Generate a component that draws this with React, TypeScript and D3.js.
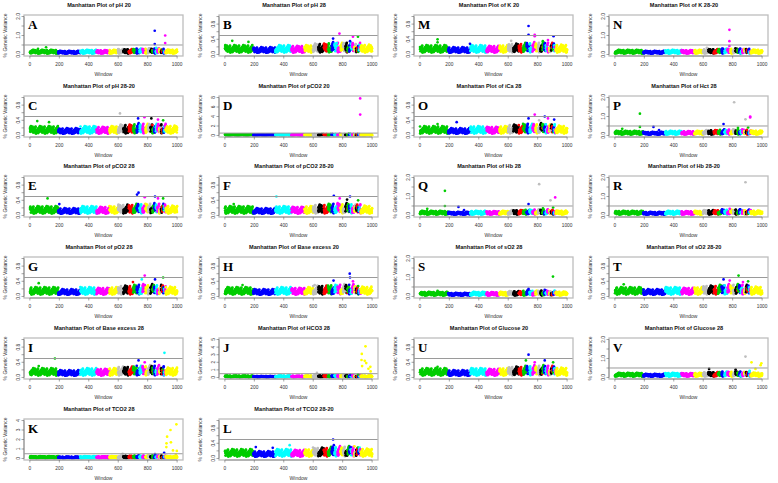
import React from "react";
import * as d3 from "d3";

// ---------- data ----------
const chromosomeNames = ["1","2","3","4","5","6","7","8","9","10","11","12","13","14","15","16","17","18","19","20","21","22","23","24","25","26","27","28","Z"];
const chromosomeWindows = [192,150,110,88,58,36,37,29,24,20,20,20,18,16,13,1,11,11,10,14,7,5,6,7,3,6,5,5,78];
// R default palette order (black, red, green3, blue, cyan, magenta, yellow, gray)
const rPalette = ["#000000","#FF0000","#00CD00","#0000FF","#00FFFF","#FF00FF","#FFFF00","#BEBEBE"];
// typical top of the background band of each chromosome (% genetic variance)
const bandTop = [0.26,0.2,0.26,0.24,0.26,0.3,0.3,0.3,0.32,0.34,0.32,0.34,0.32,0.34,0.34,0.3,0.34,0.34,0.32,0.34,0.3,0.3,0.32,0.32,0.3,0.32,0.32,0.32,0.27];
const bandLow = 0.03;
// relative position of window values inside the band
const bandPattern = [0.42,0.65,0.3,0.55,0.8,0.25,0.5,0.38,0.7,0.15,0.6,0.45,0.9,0.33,0.52,0.2,0.68,0.4,0.58,0.1,0.75,0.35,0.48,0.62,0.28,0.85,0.44,0.56,0.18,0.72,0.39,0.5,0.95,0.3,0.6,0.22,0.47,0.66,0.36,0.54,0.12,0.78,0.41,0.59,0.26,0.69,0.46,0.34,0.88,0.51,0.24,0.63,0.43,0.57,0.16,0.74,0.37,0.53,0.29,0.82,0.49];

const panelLetters = ["A","B","M","N","C","D","O","P","E","F","Q","R","G","H","S","T","I","J","U","V","K","L"];
const panelTitles = [
  "Manhattan Plot of pH 20","Manhattan Plot of pH 28","Manhattan Plot of K 20","Manhattan Plot of K 28-20",
  "Manhattan Plot of pH 28-20","Manhattan Plot of pCO2 20","Manhattan Plot of iCa 28","Manhattan Plot of Hct 28",
  "Manhattan Plot of pCO2 28","Manhattan Plot of pCO2 28-20","Manhattan Plot of Hb 28","Manhattan Plot of Hb 28-20",
  "Manhattan Plot of pO2 28","Manhattan Plot of Base excess 20","Manhattan Plot of sO2 28","Manhattan Plot of sO2 28-20",
  "Manhattan Plot of Base excess 28","Manhattan Plot of HCO3 28","Manhattan Plot of Glucose 20","Manhattan Plot of Glucose 28",
  "Manhattan Plot of TCO2 28","Manhattan Plot of TCO2 28-20",
];
const panelYMax = [2,1,1,2,1,8,1,2,1,1,2,2,1,1,2,1,1,5,1,2,4,1];
const threshold = 0.5;
// notable windows per panel: [window, % genetic variance]
const panelPeaks: number[][][] = [
  [[848,1.25],[848,0.55],[919,1.0],[919,0.6],[55,0.3],[110,0.38],[600,0.28],[858,0.35],[808,0.32],[880,0.3]],
  [[778,0.55],[870,0.47],[904,0.47],[735,0.42],[690,0.25],[50,0.36],[160,0.33],[760,0.3],[850,0.35]],
  [[738,0.75],[738,0.52],[780,0.52],[780,0.48],[908,0.48],[120,0.4],[120,0.32],[620,0.36],[340,0.28],[835,0.35],[870,0.38]],
  [[778,1.3],[778,0.7],[778,0.45],[625,0.35],[735,0.3]],
  [[612,0.58],[735,0.45],[778,0.48],[825,0.45],[870,0.42],[50,0.38],[130,0.35],[905,0.4]],
  [[919,7.8],[919,4.4]],
  [[250,0.35],[738,0.45],[780,0.55],[810,0.4],[848,0.5],[870,0.45],[912,0.42],[120,0.3]],
  [[810,1.75],[170,1.15],[170,0.45],[262,0.45],[300,0.28],[50,0.35],[738,0.6],[887,0.85],[919,1.0],[919,0.95],[836,0.4],[905,0.42]],
  [[120,0.45],[200,0.3],[738,0.6],[728,0.55],[780,0.48],[850,0.5],[870,0.45],[905,0.45]],
  [[350,0.5],[740,0.52],[780,0.45],[830,0.42],[850,0.5],[905,0.4],[60,0.3]],
  [[810,1.65],[170,1.3],[170,0.5],[262,0.45],[300,0.28],[50,0.35],[738,0.6],[887,0.8],[919,0.95],[905,0.42],[836,0.38]],
  [[887,1.75],[780,0.35],[850,0.32]],
  [[780,0.55],[760,0.45],[850,0.45],[905,0.5],[60,0.35],[700,0.38]],
  [[848,0.6],[850,0.5],[738,0.42],[870,0.4],[120,0.3],[610,0.3]],
  [[904,1.05],[738,0.4],[848,0.35],[120,0.3]],
  [[840,0.55],[738,0.45],[780,0.42],[905,0.4],[870,0.38],[60,0.32]],
  [[170,0.5],[914,0.65],[738,0.45],[848,0.42],[780,0.4],[60,0.3]],
  [[955,4.1],[930,3.1],[928,2.3],[950,2.2],[960,1.9],[932,1.5],[988,1.4],[990,0.8],[975,1.15],[625,0.6],[850,0.35],[905,0.4]],
  [[738,0.6],[720,0.45],[848,0.45],[780,0.4],[905,0.4],[120,0.28]],
  [[887,1.1],[928,0.8],[995,0.75],[990,0.65],[955,0.45],[640,0.45],[820,0.42],[915,0.35]],
  [[995,3.6],[955,3.0],[932,2.3],[928,1.6],[958,1.7],[927,1.2],[972,0.85],[998,0.8],[992,0.4],[630,0.5],[912,0.6],[850,0.45]],
  [[735,0.5],[440,0.35],[210,0.3],[740,0.35],[880,0.32],[850,0.3],[325,0.28]],
];
const xTicks = [0,200,400,600,800,1000];

// ---------- layout ----------
const W = 778, H = 483;
const colX = [0, 195, 390, 585];
const rowY = [0, 81, 161, 242, 323, 404];
const SANS = "'Liberation Sans', Arial, Helvetica, sans-serif";
const SERIF = "'Liberation Serif', 'Times New Roman', serif";

const chromEnds = d3.cumsum(chromosomeWindows);
function chromOf(w: number) {
  const i = d3.bisectLeft(Array.from(chromEnds), w);
  return Math.min(i, chromosomeNames.length - 1);
}
function colorOf(chr: number) {
  return rPalette[(chr + 2) % 8];
}

const windows: { w: number; chr: number }[] = [];
chromosomeWindows.forEach((n, ci) => {
  const start = ci === 0 ? 0 : chromEnds[ci - 1];
  for (let j = 0; j < n; j++) windows.push({ w: start + j + 1, chr: ci });
});

function Panel({ p }: { p: number }) {
  const cx = colX[p % 4];
  const ry = rowY[Math.floor(p / 4)];
  const left = cx + 24, right = cx + 183, top = ry + 15, bottom = ry + 56;
  const yMax = panelYMax[p];
  const x = d3.scaleLinear().domain([-40, 1040]).range([left, right]);
  const y = d3.scaleLinear().domain([-0.04 * yMax, 1.04 * yMax]).range([bottom, top]);
  const yTicks = d3.ticks(0, yMax, 5);
  const step = yTicks[1] - yTicks[0];
  const fmt = (v: number) => (step < 1 ? v.toFixed(1) : String(v));
  const r = 1.35;
  return (
    <g>
      <text x={cx + 99} y={ry + 6.5} textAnchor="middle" fontFamily={SANS} fontWeight="bold" fontSize={5.6} fill="#111">
        {panelTitles[p]}
      </text>
      {/* points */}
      {windows.map((d) => {
        const v = bandLow + (bandTop[d.chr] - bandLow) * bandPattern[(d.w * 7 + p * 11) % bandPattern.length];
        return <circle key={d.w} cx={x(d.w)} cy={y(v)} r={r} fill={colorOf(d.chr)} />;
      })}
      {panelPeaks[p].map((pk, i) => (
        <circle key={"pk" + i} cx={x(pk[0])} cy={y(pk[1])} r={r} fill={colorOf(chromOf(pk[0]))} />
      ))}
      {/* threshold */}
      <line x1={left} x2={right} y1={y(threshold)} y2={y(threshold)} stroke="#9a9a9a" strokeWidth={1} />
      {/* box */}
      <rect x={left} y={top} width={right - left} height={bottom - top} fill="none" stroke="#bdbdbd" strokeWidth={1.3} />
      {/* letter */}
      <text x={left + 4} y={ry + 29} fontFamily={SERIF} fontWeight="bold" fontSize={13} fill="#000">
        {panelLetters[p]}
      </text>
      {/* y axis */}
      <line x1={left} x2={left} y1={y(yTicks[0])} y2={y(yTicks[yTicks.length - 1])} stroke="#666" strokeWidth={0.6} />
      {yTicks.map((t, i) => (
        <g key={"yt" + i}>
          <line x1={left - 2.5} x2={left} y1={y(t)} y2={y(t)} stroke="#666" strokeWidth={0.6} />
          {(step >= 1 || i % 2 === 0) && (
            <text transform={`translate(${left - 4.5},${y(t)}) rotate(-90)`} textAnchor="middle" fontFamily={SANS} fontSize={4.8} fill="#333">
              {fmt(t)}
            </text>
          )}
        </g>
      ))}
      <text transform={`translate(${cx + 7},${(top + bottom) / 2}) rotate(-90)`} textAnchor="middle" fontFamily={SANS} fontSize={5} fill="#333">
        % Genetic Variance
      </text>
      {/* x axis */}
      <line x1={x(0)} x2={x(1000)} y1={bottom} y2={bottom} stroke="#666" strokeWidth={0.6} />
      {xTicks.map((t) => (
        <g key={"xt" + t}>
          <line x1={x(t)} x2={x(t)} y1={bottom} y2={bottom + 2.5} stroke="#666" strokeWidth={0.6} />
          <text x={x(t)} y={ry + 65.5} textAnchor="middle" fontFamily={SANS} fontSize={4.8} fill="#333">
            {t}
          </text>
        </g>
      ))}
      <text x={(left + right) / 2} y={ry + 76} textAnchor="middle" fontFamily={SANS} fontSize={5} fill="#333">
        Window
      </text>
    </g>
  );
}

export default function App() {
  return (
    <svg width={W} height={H} viewBox={`0 0 ${W} ${H}`} style={{ position: "absolute", left: 0, top: 0, background: "#fff" }}>
      <rect x={0} y={0} width={W} height={H} fill="#fff" />
      {panelLetters.map((_, p) => (
        <Panel key={p} p={p} />
      ))}
    </svg>
  );
}
